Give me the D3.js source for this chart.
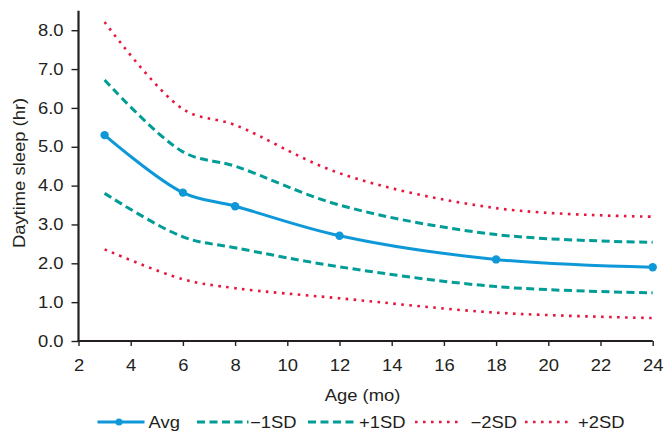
<!DOCTYPE html>
<html>
<head>
<meta charset="utf-8">
<script src="https://cdn.jsdelivr.net/npm/d3@7"></script>
<style>
  html, body { margin: 0; padding: 0; background: #fff; }
  text { font-family: "Liberation Sans", Arial, Helvetica, sans-serif; fill: #231f20; }
</style>
</head>
<body>
<svg id="chart" width="665" height="431"></svg>
<script>
const ages = [3, 6, 8, 12, 18, 24];
const avg    = [5.30, 3.82, 3.47, 2.71, 2.10, 1.90];
const minus1 = [3.80, 2.68, 2.40, 1.91, 1.40, 1.24];
const plus1  = [6.72, 4.87, 4.50, 3.50, 2.74, 2.54];
const minus2 = [2.36, 1.59, 1.36, 1.10, 0.73, 0.59];
const plus2  = [8.21, 5.97, 5.56, 4.32, 3.42, 3.20];
const xTicks = [2, 4, 6, 8, 10, 12, 14, 16, 18, 20, 22, 24];
const yTicks = [0, 1, 2, 3, 4, 5, 6, 7, 8];
const seriesNames = ["Avg", "\u22121SD", "+1SD", "\u22122SD", "+2SD"];

const BLUE = "#0f98d8", TEAL = "#009c96", RED = "#e5173f";
const FS = 16, SX = 1.15;
const series = [
  { name: seriesNames[0], values: avg,    color: BLUE, width: 3,   dash: null,      markers: true },
  { name: seriesNames[1], values: minus1, color: TEAL, width: 3,   dash: "8,4.5",   markers: false },
  { name: seriesNames[2], values: plus1,  color: TEAL, width: 3,   dash: "8,4.5",   markers: false },
  { name: seriesNames[3], values: minus2, color: RED,  width: 2.6, dash: "2.6,5.4", markers: false },
  { name: seriesNames[4], values: plus2,  color: RED,  width: 2.6, dash: "2.6,5.4", markers: false }
];

const svg = d3.select("#chart");
const x = d3.scaleLinear().domain([2, 24]).range([78.5, 652.7]);
const y = d3.scaleLinear().domain([0, 8.5]).range([341, 10.8]);

// Axes
const xAxis = svg.append("g").attr("transform", `translate(0,${y(0)})`)
  .call(d3.axisBottom(x).tickValues(xTicks).tickSize(5).tickPadding(14).tickFormat(d3.format("d")).tickSizeOuter(0));
const yAxis = svg.append("g").attr("transform", `translate(${x(2)},0)`)
  .call(d3.axisLeft(y).tickValues(yTicks).tickSize(7).tickPadding(8).tickFormat(d3.format(".1f")).tickSizeOuter(0));
[xAxis, yAxis].forEach(g => {
  g.select(".domain").attr("stroke", "#231f20").attr("stroke-width", 2.2);
  g.selectAll(".tick line").attr("stroke", "#231f20").attr("stroke-width", 1.4);
  g.selectAll(".tick text").attr("font-size", FS)
    .style("font-family", "'Liberation Sans', Arial, sans-serif").attr("fill", "#231f20")
    .attr("transform", `scale(${SX},1)`);
});
yAxis.selectAll(".tick text").attr("x", -15 / SX);
yAxis.select(".domain").attr("d", `M0,${y(8.5)}V${y(0) + 1}`);
xAxis.select(".domain").attr("d", `M${x(2) - 1},0H${x(24)}`);

function stretchedText(tx, ty, rot, anchor, str) {
  return svg.append("text")
    .attr("transform", `translate(${tx},${ty})${rot ? " rotate(" + rot + ")" : ""} scale(${SX},1)`)
    .attr("text-anchor", anchor).attr("font-size", FS).text(str);
}

// Axis titles
stretchedText(362.5, 400.5, 0, "middle", "Age (mo)");
stretchedText(24.5, 173, -90, "middle", "Daytime sleep (hr)");

// Lines
const line = d3.line().x((d, i) => x(ages[i])).y(d => y(d)).curve(d3.curveCatmullRom.alpha(0.5));
const plotOrder = [4, 2, 0, 1, 3];
plotOrder.forEach(k => {
  const s = series[k];
  svg.append("path").attr("d", line(s.values)).attr("fill", "none")
    .attr("stroke", s.color).attr("stroke-width", s.width)
    .attr("stroke-dasharray", s.dash).attr("stroke-linecap", "butt");
  if (s.markers) {
    svg.selectAll(null).data(s.values).enter().append("circle")
      .attr("cx", (d, i) => x(ages[i])).attr("cy", d => y(d)).attr("r", 4.2).attr("fill", s.color);
  }
});

// Legend
const legendY = 422;
const legendItems = [
  { s: series[0], x0: 97.5, x1: 144.5, tx: 148.5 },
  { s: series[1], x0: 197,  x1: 248.5, tx: 250 },
  { s: series[2], x0: 308,  x1: 358,   tx: 359 },
  { s: series[3], x0: 415,  x1: 459,   tx: 470.5 },
  { s: series[4], x0: 525,  x1: 569,   tx: 578 }
];
legendItems.forEach(it => {
  const g = svg.append("g");
  g.append("line").attr("x1", it.x0).attr("x2", it.x1).attr("y1", legendY).attr("y2", legendY)
    .attr("stroke", it.s.color).attr("stroke-width", it.s.width)
    .attr("stroke-dasharray", it.s.dash);
  if (it.s.markers) g.append("circle").attr("cx", (it.x0 + it.x1) / 2 - 2).attr("cy", legendY).attr("r", 3.5).attr("fill", it.s.color);
  stretchedText(it.tx, legendY + 5.8, 0, "start", it.s.name);
});
</script>
</body>
</html>
